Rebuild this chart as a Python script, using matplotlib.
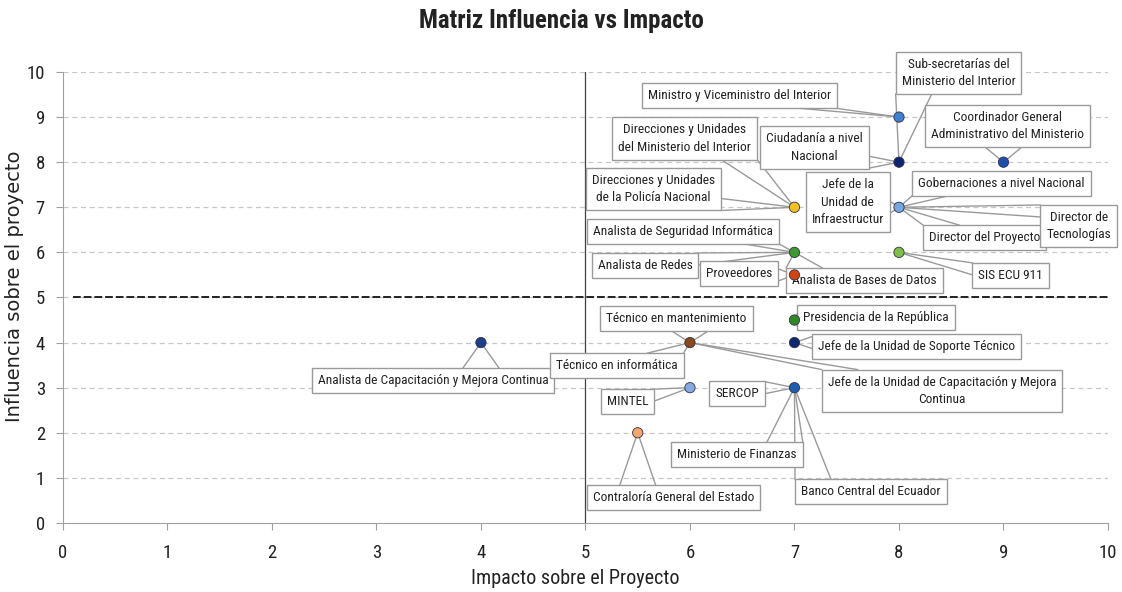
import matplotlib.pyplot as plt
from matplotlib import font_manager

# stakeholders: impacto (x), influencia (y), color
impacto = [4, 8, 8, 9, 7, 8, 7, 8, 7, 7, 7, 6, 6, 7, 5.5]
influencia = [4, 9, 8, 8, 7, 7, 6, 6, 5.5, 4.5, 4, 4, 3, 3, 2]
colores = ['#1f3f8a', '#3f7fd0', '#0f2470', '#1d4fae', '#f2c21b', '#74a9e0',
           '#3c9a2f', '#7cc043', '#d2430f', '#2f8a24', '#102770', '#8a4a16',
           '#86a9e2', '#1f5db0', '#f3a56a']

# callout labels: text, index of point, box centre (data units)
etiquetas = [
    ("Analista de Capacitación y Mejora Continua", 0, 3.54, 3.16),
    ("Ministro y Viceministro del Interior", 1, 6.47, 9.47),
    ("Sub-secretarías del\nMinisterio del Interior", 2, 8.57, 9.98),
    ("Ciudadanía a nivel\nNacional", 2, 7.19, 8.33),
    ("Coordinador General\nAdministrativo del Ministerio", 3, 9.04, 8.8),
    ("Direcciones y Unidades\ndel Ministerio del Interior", 4, 5.95, 8.53),
    ("Direcciones y Unidades\nde la Policía Nacional", 4, 5.65, 7.4),
    ("Jefe de la\nUnidad de\nInfraestructur", 5, 7.51, 7.11),
    ("Gobernaciones a nivel Nacional", 5, 8.98, 7.53),
    ("Director del Proyecto", 5, 8.82, 6.33),
    ("Director de\nTecnologías", 5, 9.72, 6.58),
    ("Analista de Seguridad Informática", 6, 5.93, 6.47),
    ("Analista de Redes", 6, 5.57, 5.71),
    ("Analista de Bases de Datos", 6, 7.67, 5.38),
    ("SIS ECU 911", 7, 9.07, 5.49),
    ("Proveedores", 8, 6.47, 5.53),
    ("Presidencia de la República", 9, 7.78, 4.56),
    ("Jefe de la Unidad de Soporte Técnico", 10, 8.17, 3.91),
    ("Técnico en mantenimiento", 11, 5.87, 4.53),
    ("Técnico en informática", 11, 5.30, 3.49),
    ("Jefe de la Unidad de Capacitación y Mejora\nContinua", 11, 8.41, 2.93),
    ("MINTEL", 12, 5.40, 2.69),
    ("SERCOP", 13, 6.45, 2.87),
    ("Ministerio de Finanzas", 13, 6.45, 1.51),
    ("Banco Central del Ecuador", 13, 7.73, 0.69),
    ("Contraloría General del Estado", 14, 5.84, 0.56),
]

# pick a condensed face if one is there
fuentes = font_manager.fontManager.ttflist
nombres = {f.name for f in fuentes}
estrecha = None
for cand in ['Liberation Sans Narrow', 'Roboto Condensed', 'Open Sans Condensed',
             'Noto Sans Condensed', 'DejaVu Sans Condensed']:
    if cand in nombres:
        estrecha = dict(family=[cand, 'DejaVu Sans'])
        break
if estrecha is None:
    estrecha = dict(family=['Lato', 'DejaVu Sans'])

fig = plt.figure(figsize=(11.22, 5.92), dpi=100)
ax = fig.add_axes([0.0561, 0.1166, 0.9314, 0.7618])

ax.set_xlim(0, 10)
ax.set_ylim(0, 10)
ax.set_xticks(range(0, 11))
ax.set_yticks(range(0, 11))
for y in range(1, 11):
    ax.axhline(y, color='#c8c8c8', lw=0.9, ls=(0, (4, 3)), zorder=0)

ax.plot([5, 5], [0, 10], color='#404040', lw=0.9, zorder=1)
ax.plot([0.1, 10], [5, 5], color='#222222', lw=1.4, ls=(0, (4, 1.5)), zorder=1)

ax.scatter(impacto, influencia, s=55, c=colores, edgecolors='#30304a',
           linewidths=0.6, zorder=4)

textos = []
for txt, i, tx, ty in etiquetas:
    t = ax.text(tx, ty, txt, ha='center', va='center', fontsize=9.6,
                color='#222222', linespacing=1.45, zorder=3, clip_on=False,
                bbox=dict(boxstyle='square,pad=0.45', fc='white', ec='#9a9a9a', lw=1),
                **estrecha)
    textos.append((t, i))

for s in ['top', 'right']:
    ax.spines[s].set_visible(False)
for s in ['left', 'bottom']:
    ax.spines[s].set_color('#a0a0a0')
ax.tick_params(colors='#a0a0a0', labelcolor='#222222', labelsize=13.5, length=5)
ax.tick_params(axis='x', pad=10)
ax.tick_params(axis='y', pad=8)
for lab in ax.get_xticklabels() + ax.get_yticklabels():
    lab.set_family(estrecha['family'])

ax.set_xlabel('Impacto sobre el Proyecto', fontsize=14.5, color='#222222', **estrecha)
ax.xaxis.set_label_coords(0.49, -0.103)
ax.set_ylabel('Influencia sobre el proyecto', fontsize=14, family='DejaVu Sans',
              color='#222222')
ax.yaxis.set_label_coords(-0.037, 0.525)
fig.suptitle('Matriz Influencia vs Impacto', fontsize=18, fontweight='bold',
             color='#222222', y=0.985, **estrecha)

# callout wedges: two lines from each point to the facing edge of its box
fig.canvas.draw()
inv = ax.transData.inverted()
for t, i in textos:
    bb = t.get_bbox_patch().get_window_extent()
    px, py = ax.transData.transform((impacto[i], influencia[i]))
    cx, cy = (bb.x0 + bb.x1) / 2, (bb.y0 + bb.y1) / 2
    rx = (px - cx) / (bb.width / 2)
    ry = (py - cy) / (bb.height / 2)
    if abs(ry) >= abs(rx):
        ey = bb.y1 if ry > 0 else bb.y0
        half = min(18, bb.width * 0.25)
        m = min(max(px, bb.x0 + half), bb.x1 - half)
        base = [(m - half, ey), (m + half, ey)]
    else:
        ex = bb.x1 if rx > 0 else bb.x0
        half = min(6, bb.height * 0.25)
        m = min(max(py, bb.y0 + half), bb.y1 - half)
        base = [(ex, m - half), (ex, m + half)]
    for bx, by in base:
        (dx0, dy0), (dx1, dy1) = inv.transform([(px, py), (bx, by)])
        ax.plot([dx0, dx1], [dy0, dy1], color='#9a9a9a', lw=1, zorder=2,
                clip_on=False)

fig.savefig('out.png', dpi=100)
